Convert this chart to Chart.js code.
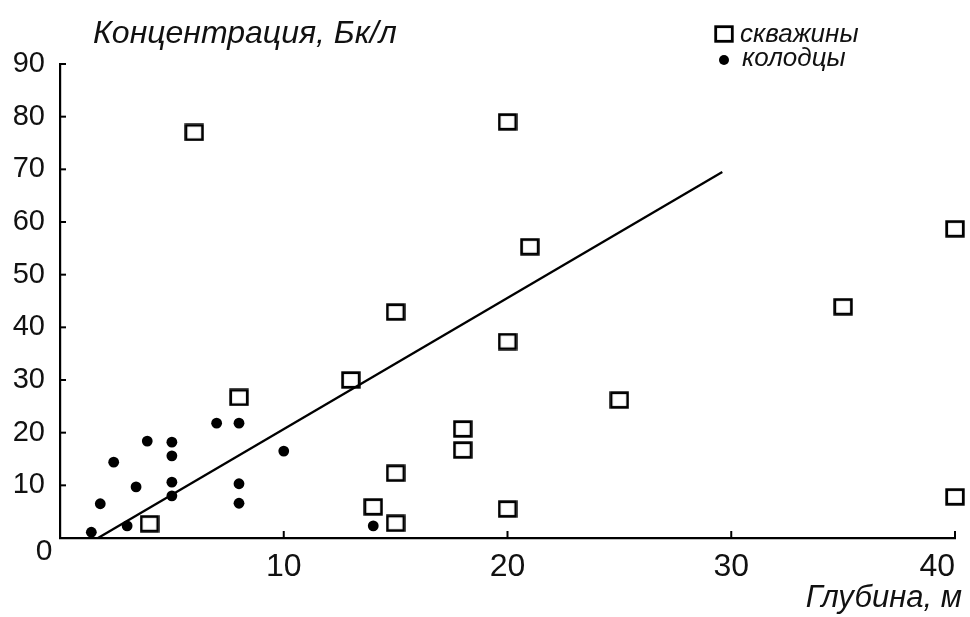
<!DOCTYPE html>
<html>
<head>
<meta charset="utf-8">
<script src="https://cdn.jsdelivr.net/npm/chart.js@4/dist/chart.umd.min.js"></script>
<style>
  html, body { margin: 0; padding: 0; background: #fff; }
  #wrap { width: 970px; height: 617px; position: relative; }
</style>
</head>
<body>
<div id="wrap"><canvas id="c" width="970" height="617"></canvas></div>
<script>
// ---- data ----
const wellsLabel = 'скважины';
const wellsX = [6, 20, 21, 40, 35, 15, 20, 13, 8, 25, 18, 18, 15, 14, 15, 20, 4, 40];
const wellsY = [77, 79, 55.3, 58.7, 43.9, 42.9, 37.3, 30, 26.7, 26.2, 20.7, 16.7, 12.3, 5.9, 2.8, 5.5, 2.7, 7.8];

const pitsLabel = 'колодцы';
const pitsX = [1.4, 1.8, 2.4, 3, 3.4, 3.9, 5, 5, 5, 5, 7, 8, 8, 8, 10, 14];
const pitsY = [1.1, 6.5, 14.4, 2.3, 9.7, 18.4, 18.2, 15.6, 10.6, 8, 21.8, 21.8, 10.3, 6.6, 16.5, 2.3];

const trendX = [1.7, 29.6];
const trendY = [0, 69.5];

const xTicks = [10, 20, 30, 40];
const yTicks = [10, 20, 30, 40, 50, 60, 70, 80, 90];
const yTitle = 'Концентрация, Бк/л';
const xTitle = 'Глубина, м';

// ---- styles ----
const INK = '#111';
const FONT = '"Liberation Sans", Arial, sans-serif';

function squareImage() {
  const c = document.createElement('canvas');
  c.width = 20; c.height = 18;
  const g = c.getContext('2d');
  g.strokeStyle = '#000';
  g.lineWidth = 2.8;
  g.strokeRect(1.7, 1.7, 16.6, 14.6);
  return c;
}
const sqImg = squareImage();

const toPts = (xs, ys) => xs.map((x, i) => ({ x: x, y: ys[i] }));

const decor = {
  id: 'decor',
  afterDraw(chart) {
    const ctx = chart.ctx;
    const xs = chart.scales.x, ys = chart.scales.y;
    const area = chart.chartArea;
    ctx.save();
    ctx.strokeStyle = '#000';
    ctx.lineWidth = 2;
    // inward ticks
    xTicks.forEach(v => {
      const px = xs.getPixelForValue(v);
      ctx.beginPath(); ctx.moveTo(px, area.bottom); ctx.lineTo(px, area.bottom - 7); ctx.stroke();
    });
    yTicks.forEach(v => {
      const py = ys.getPixelForValue(v);
      ctx.beginPath(); ctx.moveTo(area.left, py); ctx.lineTo(area.left + 6, py); ctx.stroke();
    });
    ctx.fillStyle = INK;
    // origin label
    ctx.font = '30px ' + FONT;
    ctx.textAlign = 'center';
    ctx.textBaseline = 'middle';
    ctx.fillText('0', 44, 552);
    // axis titles
    ctx.font = 'italic 32px ' + FONT;
    ctx.textAlign = 'left';
    ctx.textBaseline = 'alphabetic';
    ctx.fillText(yTitle, 93, 43);
    ctx.font = 'italic 31px ' + FONT;
    ctx.textAlign = 'right';
    ctx.fillText(xTitle, 962, 607);
    // legend
    ctx.drawImage(sqImg, 724 - sqImg.width / 2, 34 - sqImg.height / 2);
    ctx.beginPath(); ctx.fillStyle = '#000'; ctx.arc(724, 60, 5, 0, Math.PI * 2); ctx.fill();
    ctx.fillStyle = INK;
    ctx.font = 'italic 26px ' + FONT;
    ctx.textAlign = 'left';
    ctx.fillText(wellsLabel, 740, 42);
    ctx.fillText(pitsLabel, 742, 66);
    ctx.restore();
  }
};

new Chart(document.getElementById('c'), {
  type: 'scatter',
  data: {
    datasets: [
      {
        label: wellsLabel,
        data: toPts(wellsX, wellsY),
        pointStyle: sqImg,
        pointRadius: 9,
        clip: false
      },
      {
        label: pitsLabel,
        data: toPts(pitsX, pitsY),
        pointStyle: 'circle',
        pointRadius: 5.4,
        backgroundColor: '#000',
        borderColor: '#000',
        borderWidth: 0,
        clip: false
      },
      {
        type: 'line',
        label: 'trend',
        data: toPts(trendX, trendY),
        borderColor: '#000',
        borderWidth: 2.3,
        pointRadius: 0,
        fill: false,
        tension: 0,
        clip: false
      }
    ]
  },
  options: {
    responsive: false,
    animation: false,
    devicePixelRatio: 1,
    layout: { padding: { left: 0, top: 64, right: 15, bottom: 0 } },
    plugins: { legend: { display: false }, tooltip: { enabled: false } },
    scales: {
      x: {
        type: 'linear', min: 0, max: 40,
        afterBuildTicks: s => { s.ticks = [0].concat(xTicks).map(v => ({ value: v })); },
        afterFit: s => { s.height = 79; s.paddingLeft = 0; s.paddingRight = 0; },
        grid: { display: false, drawTicks: false },
        border: { display: true, color: '#000', width: 2.2 },
        ticks: {
          align: 'inner',
          padding: 10,
          color: INK,
          font: { family: FONT, size: 32 },
          maxRotation: 0,
          callback: v => (v === 0 ? '' : String(v))
        }
      },
      y: {
        type: 'linear', min: 0, max: 90,
        afterBuildTicks: s => { s.ticks = [0].concat(yTicks).map(v => ({ value: v })); },
        afterFit: s => { s.width = 60; s.paddingTop = 0; s.paddingBottom = 0; },
        grid: { display: false, drawTicks: false },
        border: { display: true, color: '#000', width: 2.2 },
        ticks: {
          padding: 15,
          color: INK,
          font: { family: FONT, size: 29 },
          callback: v => (v === 0 ? '' : String(v))
        }
      }
    }
  },
  plugins: [decor]
});
</script>
</body>
</html>
